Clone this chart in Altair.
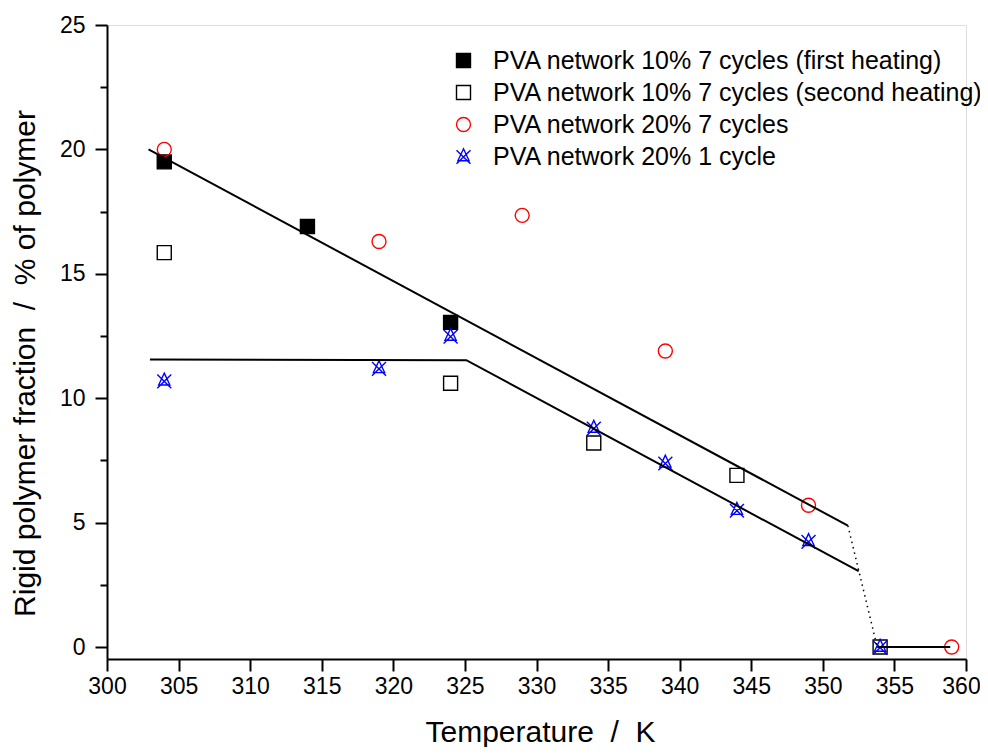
import altair as alt
import pandas as pd

# ---- data ----
series_names = [
    "PVA network 10% 7 cycles (first heating)",
    "PVA network 10% 7 cycles (second heating)",
    "PVA network 20% 7 cycles",
    "PVA network 20% 1 cycle",
]
s1_T = [304, 314, 324]
s1_v = [19.5, 16.9, 13.05]
s2_T = [304, 324, 334, 344, 354]
s2_v = [15.85, 10.6, 8.2, 6.9, 0.0]
s3_T = [304, 319, 329, 339, 349, 359]
s3_v = [20.0, 16.3, 17.35, 11.9, 5.7, 0.0]
s4_T = [304, 319, 324, 334, 339, 344, 349, 354]
s4_v = [10.7, 11.2, 12.5, 8.8, 7.4, 5.5, 4.25, 0.0]

# fitted guide lines
upper_T = [302.9, 351.75]
upper_v = [20.0, 4.88]
lower_T = [303.0, 325.1, 352.5]
lower_v = [11.56, 11.53, 3.05]
zero_T = [353.8, 358.9]
zero_v = [0.0, 0.0]
drop_T = [351.75, 353.8]
drop_v = [4.88, 0.0]

x_ticks = [300 + 2.5 * i for i in range(25)]
y_ticks = [2.5 * i for i in range(11)]

# ---- tables ----
rows = []
for name, T, v in zip(series_names, [s1_T, s2_T, s3_T, s4_T], [s1_v, s2_v, s3_v, s4_v]):
    for t, val in zip(T, v):
        rows.append({"series": name, "T": t, "v": val})
pts = pd.DataFrame(rows)

lrows = []
for seg, T, v in [("upper", upper_T, upper_v), ("lower", lower_T, lower_v), ("zero", zero_T, zero_v)]:
    for i, (t, val) in enumerate(zip(T, v)):
        lrows.append({"seg": seg, "T": t, "v": val, "o": i})
lines = pd.DataFrame(lrows)
drop = pd.DataFrame({"T": drop_T, "v": drop_v, "o": [0, 1]})

FONT = "Liberation Sans"
W, H = 859, 634
NB = "\u00a0"

xscale = alt.Scale(domain=[300, 360], nice=False, zero=False)
yscale = alt.Scale(domain=[-0.48, 25], nice=False, zero=False)

major_cond = {"condition": {"test": "datum.value % 5 === 0", "value": 12}, "value": 7}

x_axis = alt.Axis(
    values=x_ticks,
    labelExpr="datum.value % 5 === 0 ? datum.label : ''",
    tickSize=major_cond,
    tickWidth=2, tickColor="black",
    domainWidth=2, domainColor="black",
    grid=False,
    labelFont=FONT, labelFontSize=23, labelColor="black", labelPadding=4,
    labelOffset={"condition": {"test": "datum.value >= 360", "value": -5}, "value": 0},
    labelFlush=False, labelOverlap=False,
    title=f"Temperature{NB} /{NB} K",
    titleFont=FONT, titleFontSize=30, titleFontWeight="normal", titleColor="black",
    titleX=433, titleY=82, titleBaseline="alphabetic", titleAnchor="middle", titleAlign="center",
)
y_axis = alt.Axis(
    values=y_ticks,
    labelExpr="datum.value % 5 === 0 ? datum.label : ''",
    tickSize=major_cond,
    tickWidth=2, tickColor="black",
    domainWidth=2, domainColor="black",
    grid=False,
    labelFont=FONT, labelFontSize=23, labelColor="black", labelPadding=10,
    labelFlush=False, labelOverlap=False,
    title=f"Rigid polymer fraction{NB} /{NB} % of polymer",
    titleFont=FONT, titleFontSize=30, titleFontWeight="normal", titleColor="black",
    titleX=-82, titleY=338, titleAngle=270, titleBaseline="middle", titleAlign="center",
)

custom = "M0,-1.1L0.8,0.6L-0.8,0.6Z M-1,-0.9L1,1.05 M1,-0.9L-1,1.05"

legend = alt.Legend(
    title=None, orient="none", legendX=344, legendY=23,
    labelFont=FONT, labelFontSize=25, labelColor="black", labelLimit=900,
    rowPadding=6, padding=0, labelOffset=17, symbolStrokeWidth=1.4,
)

points = alt.Chart(pts).mark_point(opacity=1, strokeWidth=1.4).encode(
    x=alt.X("T:Q", scale=xscale, axis=x_axis),
    y=alt.Y("v:Q", scale=yscale, axis=y_axis),
    shape=alt.Shape("series:N", scale=alt.Scale(domain=series_names,
                    range=["square", "square", "circle", custom]), legend=legend),
    stroke=alt.Stroke("series:N", scale=alt.Scale(domain=series_names,
                      range=["black", "black", "#ff0000", "#0000ff"]), legend=legend),
    fill=alt.Fill("series:N", scale=alt.Scale(domain=series_names,
                  range=["black", "transparent", "transparent", "transparent"]), legend=legend),
    size=alt.Size("series:N", scale=alt.Scale(domain=series_names,
                  range=[196, 196, 210, 400]), legend=legend),
)

solid = alt.Chart(lines).mark_line(color="black", strokeWidth=2).encode(
    x=alt.X("T:Q", scale=xscale),
    y=alt.Y("v:Q", scale=yscale),
    detail="seg:N",
    order="o:Q",
)
dotted = alt.Chart(drop).mark_line(color="black", strokeWidth=1.5, strokeDash=[1.5, 4]).encode(
    x=alt.X("T:Q", scale=xscale),
    y=alt.Y("v:Q", scale=yscale),
    order="o:Q",
)

chart = alt.layer(points, solid, dotted).properties(
    width=W, height=H,
    autosize=alt.AutoSizeParams(type="none"),
    padding={"left": 99, "top": 17, "right": 14, "bottom": 88},
).configure_view(stroke=None).configure(background="white")

chart.save("out.html", embed_options={"renderer": "svg", "actions": False})
